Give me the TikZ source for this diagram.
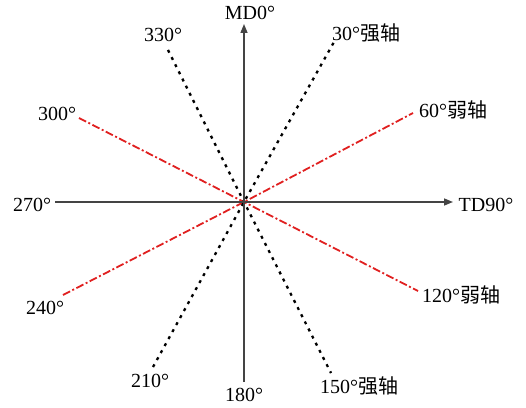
\documentclass[tikz,border=0pt]{standalone}
\usepackage{fontspec}
\setmainfont{Liberation Serif}
\newfontfamily\cjk{Noto Sans CJK SC}
\usetikzlibrary{arrows.meta}
\definecolor{axisgray}{HTML}{444444}
\definecolor{axred}{HTML}{E02020}
\tikzset{
  axisline/.style={draw=axisgray, line width=1.4pt, -{Triangle[length=9pt,width=7pt]}},
  plainaxis/.style={draw=axisgray, line width=1.4pt},
  strongline/.style={draw=black, line width=2.3pt, dash pattern=on 3pt off 5pt},
  weakline/.style={draw=axred, line width=1.8pt, dash pattern=on 8pt off 2.5pt on 2pt off 2.5pt},
  lbl/.style={font=\fontsize{20}{22}\selectfont, inner sep=0pt}
}
\begin{document}
\begin{tikzpicture}[x=1pt,y=1pt]
\useasboundingbox (0,0) rectangle (526,407);
\coordinate (O) at (244,205);
\coordinate (N) at (244,383);
\coordinate (S) at (244,25);
\coordinate (W) at (55,205);
\coordinate (E) at (453,205);
\coordinate (a30) at (334,365);
\coordinate (a210) at (153,40);
\coordinate (a330) at (168,357);
\coordinate (a150) at (331,34);
\coordinate (a60) at (413,294);
\coordinate (a300) at (79,289);
\coordinate (a240) at (63,112);
\coordinate (a120) at (418,116);
% red weak axes
\draw[weakline] (a300) -- (O) -- (a120);
\draw[weakline] (a240) -- (O) -- (a60);
% black strong axes
\draw[strongline] (a330) -- (O) -- (a150);
\draw[strongline] (a210) -- (O) -- (a30);
% main axes
\draw[plainaxis] (W) -- (O);
\draw[axisline] (O) -- (E);
\draw[plainaxis] (S) -- (O);
\draw[axisline] (O) -- (N);
% labels
\node[lbl] (lMD) at (250,394) {MD0°};
\node[lbl] (l330) at (163,372) {330°};
\node[lbl] (l30) at (366,374) {30°{\cjk 强轴}};
\node[lbl] (l300) at (57,293) {300°};
\node[lbl] (l60) at (453,297) {60°{\cjk 弱轴}};
\node[lbl] (l270) at (32,202) {270°};
\node[lbl] (lTD) at (486,202) {TD90°};
\node[lbl] (l240) at (45,99) {240°};
\node[lbl] (l120) at (461,112) {120°{\cjk 弱轴}};
\node[lbl] (l210) at (150,26) {210°};
\node[lbl] (l180) at (244,12) {180°};
\node[lbl] (l150) at (359,21) {150°{\cjk 强轴}};
\end{tikzpicture}
\end{document}
